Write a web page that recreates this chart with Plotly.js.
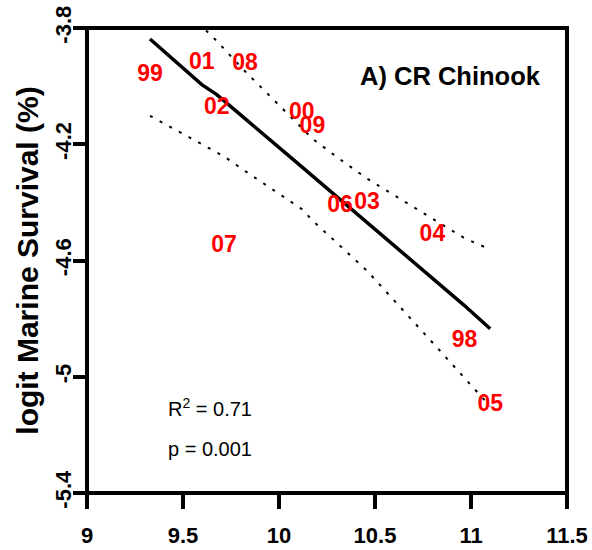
<!DOCTYPE html>
<html>
<head>
<meta charset="utf-8">
<script src="https://cdn.plot.ly/plotly-3.0.1.min.js"></script>
<style>html,body{margin:0;padding:0;background:#fff;}</style>
</head>
<body>
<div id="chart" style="width:592px;height:550px;"></div>
<script>
// Brood-year labels and values
const years = ['99','01','02','07','08','00','09','06','03','04','98','05'];
const xVals = [9.328, 9.598, 9.676, 9.714, 9.823, 10.119, 10.174, 10.318, 10.458, 10.799, 10.966, 11.100];
const yVals = [-3.961, -3.920, -4.075, -4.551, -3.923, -4.092, -4.142, -4.414, -4.404, -4.514, -4.878, -5.099];
// Fitted line and confidence band, evaluated at the same x values
const fitVals = [-3.838, -3.995, -4.029, -4.051, -4.112, -4.278, -4.309, -4.390, -4.468, -4.661, -4.755, -4.835];
const upperVals = [-3.575, -3.794, -3.845, -3.871, -3.949, -4.144, -4.181, -4.252, -4.318, -4.456, -4.523, -4.562];
const lowerVals = [-4.102, -4.199, -4.228, -4.242, -4.292, -4.423, -4.462, -4.549, -4.635, -4.882, -5.003, -5.102];
const xTicks = [9, 9.5, 10, 10.5, 11, 11.5];
const xTickText = ['9', '9.5', '10', '10.5', '11', '11.5'];
const yTicks = [-5.4, -5, -4.6, -4.2, -3.8];
const yTickText = ['-5.4', '-5', '-4.6', '-4.2', '-3.8'];
const panelTitle = 'A) CR Chinook';
const r2Text = 'R<sup>2</sup> = 0.71';
const pText = 'p = 0.001';

const FONT = 'Liberation Sans, Arial, Helvetica, sans-serif';

const traces = [
  {x: xVals, y: upperVals, mode: 'lines', line: {color: 'black', width: 2, dash: '3px,8px'}, hoverinfo: 'skip'},
  {x: xVals, y: lowerVals, mode: 'lines', line: {color: 'black', width: 2, dash: '3px,8px'}, hoverinfo: 'skip'},
  {x: xVals, y: fitVals, mode: 'lines', line: {color: 'black', width: 3.5}, hoverinfo: 'skip'},
  {x: xVals, y: yVals, mode: 'text', text: years, textposition: 'middle center',
   textfont: {family: FONT, size: 23, color: '#ff0000', weight: 'bold'}, cliponaxis: false}
];

const layout = {
  width: 592, height: 550,
  margin: {l: 87, r: 25, t: 28, b: 57, pad: 0},
  paper_bgcolor: 'white', plot_bgcolor: 'white',
  showlegend: false,
  font: {family: FONT, color: 'black'},
  xaxis: {
    range: [9, 11.5], tickvals: xTicks, ticktext: xTickText,
    ticks: 'outside', ticklen: 15, tickwidth: 4, tickcolor: 'black',
    showline: false, showgrid: false, zeroline: false,
    tickfont: {family: FONT, size: 22, color: 'black', weight: 'bold'},
    ticklabelstandoff: 8
  },
  yaxis: {
    range: [-5.4, -3.8], tickvals: yTicks, ticktext: yTickText,
    ticks: 'outside', ticklen: 13, tickwidth: 4, tickcolor: 'black',
    showline: false, showgrid: false, zeroline: false, tickangle: -90,
    tickfont: {family: FONT, size: 22, color: 'black', weight: 'bold'},
    ticklabelstandoff: -7,
    title: {text: 'logit Marine Survival (%)', standoff: 3,
            font: {family: FONT, size: 30, color: 'black', weight: 'bold'}}
  },
  shapes: [
    {type: 'rect', xref: 'paper', yref: 'paper', x0: 0, x1: 1, y0: 0, y1: 1,
     line: {color: 'black', width: 4}, fillcolor: 'rgba(0,0,0,0)'}
  ],
  annotations: [
    {x: 11.376, y: -3.966, xref: 'x', yref: 'y', text: panelTitle, showarrow: false,
     xanchor: 'right', yanchor: 'middle', font: {family: FONT, size: 25.5, color: 'black', weight: 'bold'}},
    {x: 9.409, y: -5.106, xref: 'x', yref: 'y', text: r2Text, showarrow: false,
     xanchor: 'left', yanchor: 'middle', font: {family: FONT, size: 20, color: 'black'}},
    {x: 9.409, y: -5.25, xref: 'x', yref: 'y', text: pText, showarrow: false,
     xanchor: 'left', yanchor: 'middle', font: {family: FONT, size: 20, color: 'black'}}
  ]
};

Plotly.newPlot('chart', traces, layout, {displayModeBar: false, staticPlot: true});
</script>
</body>
</html>
